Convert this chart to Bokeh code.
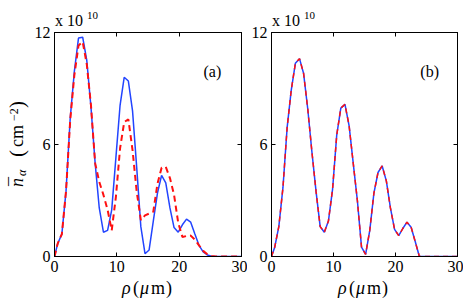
import math
from bokeh.plotting import figure
from bokeh.models import Range1d, LinearAxis, FixedTicker, Label, Div
from bokeh.layouts import row, column
from bokeh.embed import file_html
from bokeh.resources import INLINE

# radial positions (micrometres)
rho = [0, 0.52, 1.18, 1.85, 2.52, 3.18, 3.85, 4.52, 5.18, 5.85, 6.52, 7.18,
       7.85, 8.52, 9.18, 9.85, 10.52, 11.18, 11.85, 12.52, 13.18, 13.85,
       14.52, 15.18, 15.85, 16.52, 17.18, 17.85, 18.52, 19.18, 19.85, 20.52,
       21.18, 21.85, 22.52, 23.18, 23.85, 24.52, 25.18, 25.85, 27.0, 28.0,
       29.0, 30.0]

# densities in units of 1e10 cm^-2
a_blue = [0, 0.7, 1.2, 3.5, 7.4, 9.9, 11.7, 11.75, 10.5, 8.0, 5.0, 2.6,
          1.3, 1.4, 2.5, 5.3, 8.1, 9.6, 9.4, 7.8, 4.8, 1.6,
          0.15, 0.35, 1.9, 3.4, 4.35, 3.95, 2.6, 1.55, 1.3, 1.7,
          2.0, 1.84, 1.2, 0.6, 0.25, 0.08, 0.02, 0, 0, 0,
          0, 0]
a_red = [0, 0.7, 1.2, 3.5, 7.3, 9.7, 11.3, 11.5, 10.3, 8.1, 5.0, 4.0,
         3.3, 2.5, 1.4, 3.2, 5.8, 7.2, 7.35, 5.7, 3.5, 1.95,
         2.2, 2.3, 2.4, 3.9, 4.75, 4.8, 4.2, 3.3, 1.8, 1.04,
         1.1, 1.12, 0.9, 0.6, 0.3, 0.12, 0.03, 0, 0, 0,
         0, 0]
b_blue = [0, 0.5, 1.6, 3.7, 6.9, 8.9, 10.35, 10.6, 9.8, 7.9, 5.6, 3.5,
          1.6, 1.3, 1.9, 3.6, 6.5, 7.95, 8.15, 7.0, 5.0, 3.0,
          0.5, 0.12, 1.4, 3.4, 4.5, 4.85, 4.05, 2.6, 1.45, 1.12,
          1.5, 1.84, 1.57, 0.8, 0.0, 0, 0, 0, 0, 0,
          0, 0]
b_red = list(b_blue)

x_ticks = [0, 10, 20, 30]
y_ticks = [0, 6, 12]
panel_tags = ["(a)", "(b)"]

BLUE = "#2244ff"
RED = "#ff1010"
SERIF = "Liberation Serif"

TOP_H = 14
FIG_H = 18 + 224 + 24
BOT_H = 304 - TOP_H - FIG_H
YLAB_W = 30


def mirror_axis(ticks):
    # tick marks only (labels not drawn)
    return LinearAxis(ticker=FixedTicker(ticks=ticks), major_label_text_font_size="1px",
                      major_label_text_color=None, major_label_text_alpha=0,
                      major_tick_in=4, major_tick_out=0, minor_tick_line_color=None,
                      major_label_standoff=0, axis_line_color="black")


def make_fig(width, left, right):
    p = figure(width=width, height=FIG_H, x_range=Range1d(0, 30), y_range=Range1d(0, 12),
               output_backend="svg", toolbar_location=None,
               min_border_left=left, min_border_right=right,
               min_border_top=18, min_border_bottom=24)
    p.grid.visible = False
    p.outline_line_color = "black"
    p.outline_line_width = 1
    p.background_fill_color = "white"
    p.border_fill_color = "white"
    for ax in p.xaxis:
        ax.ticker = FixedTicker(ticks=x_ticks)
    for ax in p.yaxis:
        ax.ticker = FixedTicker(ticks=y_ticks)
    for ax in list(p.xaxis) + list(p.yaxis):
        ax.major_tick_in = 4
        ax.major_tick_out = 0
        ax.minor_tick_line_color = None
        ax.major_label_text_font = SERIF
        ax.major_label_text_font_size = "16px"
        ax.major_label_text_color = "black"
        ax.axis_line_color = "black"
        ax.major_tick_line_color = "black"
    p.xaxis.major_label_standoff = 4
    p.yaxis.major_label_standoff = 4
    p.add_layout(mirror_axis(x_ticks), "above")
    p.add_layout(mirror_axis(y_ticks), "right")
    return p


def tag(p, x, y, text):
    p.add_layout(Label(x=x, y=y, text=text, text_font=SERIF, text_font_size="16px",
                       text_color="black", text_align="left", text_baseline="alphabetic"))


p1 = make_fig(24 + 187 + 6, 24, 6)
p1.line(rho, a_blue, color=BLUE, line_width=1.5)
p1.line(rho, a_red, color=RED, line_width=2, line_dash="6 4")
tag(p1, 23.9, 9.9, panel_tags[0])

p2 = make_fig(24 + 186 + 6, 24, 6)
p2.line(rho, b_blue, color=BLUE, line_width=1.5)
p2.line(rho, b_red, color=RED, line_width=1.5, line_dash="5 4")
tag(p2, 24.0, 9.9, panel_tags[1])


def span(text, left, baseline, size, italic=False, rotate=False):
    """absolutely positioned text piece; baseline given in px of the host div"""
    asc = 0.8375 * size
    style = (f"position:absolute;white-space:nowrap;font-family:'{SERIF}';"
             f"font-size:{size}px;line-height:{size}px;color:#000;margin:0;padding:0;"
             f"font-style:{'italic' if italic else 'normal'};")
    if rotate:
        # text runs upward; 'left' is baseline x, 'baseline' is start y
        style += (f"left:{left - asc:.1f}px;top:{baseline:.1f}px;"
                  "transform-origin:0 0;transform:rotate(-90deg);")
    else:
        style += f"left:{left:.1f}px;top:{baseline - asc:.1f}px;"
    return f'<div style="{style}">{text}</div>'


def box(w, h, pieces):
    return (f'<div style="position:relative;width:{w}px;height:{h}px;overflow:visible;margin:0;padding:0;">'
            + "".join(pieces) + "</div>")


W_ALL = YLAB_W + p1.width + p2.width
OVER = {"overflow": "visible", "z-index": "10"}

# exponent labels above each panel (overlapping the figures' top border)
top_pieces = []
for dx in (0, 217):
    top_pieces.append(span("x", 55 + dx, 26.5, 16))
    top_pieces.append(span("10", 67 + dx, 26.5, 16))
    top_pieces.append(span("10", 87 + dx, 19.5, 11))
top_div = Div(text=box(W_ALL, TOP_H, top_pieces), width=W_ALL, height=TOP_H, margin=0,
              styles=OVER)

# rotated y-axis label
oy = TOP_H
ylab_pieces = [
    span("n", 23.5, 187 - oy, 18, italic=True, rotate=True),
    span("\u00af", 22.0, 185.5 - oy, 18, rotate=True),
    span("\u03b1", 26.5, 176 - oy, 12, italic=True, rotate=True),
    span("(", 24.5, 157 - oy, 21, rotate=True),
    span("cm", 23.5, 147 - oy, 18, rotate=True),
    span("\u22122", 18.0, 121 - oy, 12, rotate=True),
    span(")", 24.5, 108 - oy, 21, rotate=True),
]
ylab_div = Div(text=box(YLAB_W, FIG_H, ylab_pieces), width=YLAB_W, height=FIG_H, margin=0)

# x-axis labels below each panel
ob = TOP_H + FIG_H
bot_pieces = []
for dx in (0, 216):
    bot_pieces.append(span("\u03c1", 122 + dx, 294 - ob, 18, italic=True))
    bot_pieces.append(span("(", 133 + dx, 294 - ob, 18))
    bot_pieces.append(span("\u03bc", 140 + dx, 294 - ob, 18, italic=True))
    bot_pieces.append(span("m", 151 + dx, 294 - ob, 18))
    bot_pieces.append(span(")", 166 + dx, 294 - ob, 18))
bot_div = Div(text=box(W_ALL, BOT_H, bot_pieces), width=W_ALL, height=BOT_H, margin=0)

layout = column(top_div, row(ylab_div, p1, p2, spacing=0), bot_div, spacing=0)
open("out.html", "w").write(file_html(layout, INLINE))
